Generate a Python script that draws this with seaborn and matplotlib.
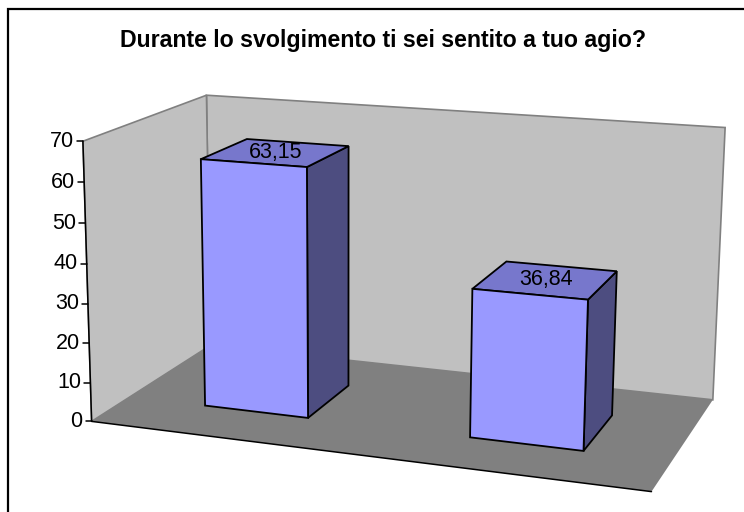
import numpy as np
import matplotlib
matplotlib.use('Agg')
import matplotlib.pyplot as plt
import matplotlib.transforms as mtransforms
from matplotlib.patches import Polygon, Rectangle
from matplotlib.lines import Line2D
import seaborn as sns

# data
title = "Durante lo svolgimento ti sei sentito a tuo agio?"
answers = ["Sì", "No"]
percent = [63.15, 36.84]
percent_labels = ["63,15", "36,84"]
y_ticks = [0, 10, 20, 30, 40, 50, 60, 70]
y_max = 70

W, H = 744, 512

sns.set_style('white')
plt.rcParams['font.family'] = ['Liberation Sans', 'DejaVu Sans']
plt.rcParams['text.color'] = 'black'

# 3d camera fitted on the corners of the chart box
# world: x along categories (0..2), y = value / y_max, z = depth (0 front, 1 back)
box_world = np.array([[0, 0, 0], [0, 1, 0], [2, 0, 0], [2, 0, 1],
                      [0, 0, 1], [0, 1, 1], [2, 1, 1]], dtype=float)
box_pixel = np.array([[93.3, 420], [80.7, 142.3], [652, 492], [713, 399.5],
                      [208.5, 346.5], [209, 94.3], [724.5, 127.5]]) / W


def fit_camera(world, pix):
    rows = []
    for (X, Y, Z), (u, v) in zip(world, pix):
        rows.append([X, Y, Z, 1, 0, 0, 0, 0, -u * X, -u * Y, -u * Z, -u])
        rows.append([0, 0, 0, 0, X, Y, Z, 1, -v * X, -v * Y, -v * Z, -v])
    _, _, vt = np.linalg.svd(np.array(rows))
    return vt[-1].reshape(3, 4)


cam = fit_camera(box_world, box_pixel)


def project(pts):
    # pts: (n,3) with y in data units -> display pixels (y up)
    pts = np.atleast_2d(np.asarray(pts, dtype=float))
    hom = np.column_stack([pts[:, 0], pts[:, 1] / y_max, pts[:, 2], np.ones(len(pts))])
    p = hom @ cam.T
    u = p[:, 0] / p[:, 2] * W
    v = p[:, 1] / p[:, 2] * W
    return np.column_stack([u, H - v])


class FaceTransform(mtransforms.Transform):
    """maps seaborn data coords (category pos, value) onto the plane z in 3d"""
    input_dims = 2
    output_dims = 2

    def __init__(self, z, shift):
        super().__init__()
        self.z = z
        self.shift = shift

    def transform_non_affine(self, values):
        xy = np.atleast_2d(np.asarray(values, dtype=float))
        pts = np.column_stack([xy[:, 0] + self.shift, xy[:, 1], np.full(len(xy), self.z)])
        return project(pts)


fig = plt.figure(figsize=(W / 100, H / 100), dpi=100)
fig.patch.set_facecolor('white')
ax = fig.add_axes([0, 0, 1, 1])

pix = mtransforms.IdentityTransform()
n_cat = len(answers)

# walls and floor
wall_col = '#c0c0c0'
floor_col = '#808080'
back = project([[0, 0, 1], [n_cat, 0, 1], [n_cat, y_max, 1], [0, y_max, 1]])
left = project([[0, 0, 0], [0, 0, 1], [0, y_max, 1], [0, y_max, 0]])
floor = project([[0, 0, 0], [n_cat, 0, 0], [n_cat, 0, 1], [0, 0, 1]])
ax.add_patch(Polygon(back, closed=True, facecolor=wall_col, edgecolor='#808080', lw=1.2,
                     transform=pix, zorder=0, clip_on=False))
ax.add_patch(Polygon(left, closed=True, facecolor=wall_col, edgecolor='#808080', lw=1.2,
                     transform=pix, zorder=0, clip_on=False))
ax.add_patch(Polygon(floor, closed=True, facecolor=floor_col, edgecolor='none',
                     transform=pix, zorder=0.5, clip_on=False))
edge = project([[0, y_max, 0], [0, 0, 0], [n_cat, 0, 0]])
ax.add_line(Line2D(edge[:, 0], edge[:, 1], color='black', lw=1.1, transform=pix,
                   zorder=0.6, clip_on=False))

# y ticks along the front-left edge
for t in y_ticks:
    p = project([[0, t, 0]])[0]
    ax.add_line(Line2D([p[0] - 6, p[0]], [p[1], p[1]], color='black', lw=1.1,
                       transform=pix, clip_on=False))
    ax.text(p[0] - 9, p[1], str(t), ha='right', va='center', fontsize=15.5,
            color='black', transform=pix)

# bars
front_col = '#9999ff'
top_col = '#7777cc'
side_col = '#4d4d80'
bar_width = 0.4
z0, z1 = 0.3, 0.7

sns.barplot(x=answers, y=percent, color=front_col, saturation=1, width=bar_width,
            edgecolor='black', linewidth=1.3, ax=ax)

shift = 0.5  # seaborn category i sits at i, box cell centre is i + 0.5
for bar, lab in zip(ax.patches[-n_cat:], percent_labels):
    xa = bar.get_x() + shift
    xb = xa + bar.get_width()
    h = bar.get_height()
    bar.set_transform(FaceTransform(z0, shift))
    bar.set_zorder(3)
    bar.set_clip_on(False)
    top = project([[xa, h, z0], [xb, h, z0], [xb, h, z1], [xa, h, z1]])
    side = project([[xb, 0, z0], [xb, 0, z1], [xb, h, z1], [xb, h, z0]])
    ax.add_patch(Polygon(side, closed=True, facecolor=side_col, edgecolor='black', lw=1.3,
                         transform=pix, zorder=2, clip_on=False, joinstyle='miter'))
    ax.add_patch(Polygon(top, closed=True, facecolor=top_col, edgecolor='black', lw=1.3,
                         transform=pix, zorder=2, clip_on=False, joinstyle='miter'))
    c = project([[(xa + xb) / 2, h, (z0 + z1) / 2]])[0]
    ax.text(c[0], c[1], lab, ha='center', va='center', fontsize=15.5, color='black',
            transform=pix, zorder=5)

ax.set_xlim(-0.5, 1.5)
ax.set_ylim(0, y_max)
ax.set_axis_off()

# title and outer frame
fig.text(383 / W, 1 - 46.7 / H, title, ha='center', va='baseline', fontsize=16.7,
         fontweight='bold', color='black')
fig.add_artist(Rectangle((8, -20), W + 40, H + 20 - 9, fill=False, edgecolor='black',
                         lw=1.6, transform=pix))

fig.savefig('out.png', dpi=100, facecolor='white')
